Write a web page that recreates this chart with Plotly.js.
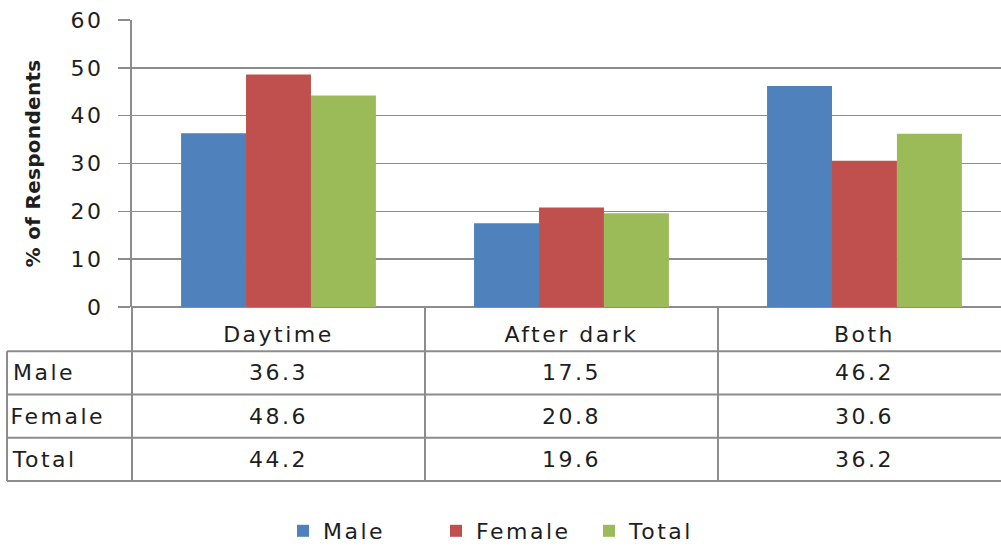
<!DOCTYPE html>
<html>
<head>
<meta charset="utf-8">
<script src="https://cdn.plot.ly/plotly-3.0.1.min.js"></script>
<style>
html,body{margin:0;padding:0;background:#fff;}
#chart{width:1001px;height:552px;}
#chart svg text{letter-spacing:2.5px;}
#chart svg .g-ytitle text{letter-spacing:0.3px;}
</style>
</head>
<body>
<div id="chart"></div>
<script>
// ---- data ----
const categories = ["Daytime", "After dark", "Both"];
const seriesNames = ["Male", "Female", "Total"];
const maleValues = [36.3, 17.5, 46.2];
const femaleValues = [48.6, 20.8, 30.6];
const totalValues = [44.2, 19.6, 36.2];
const yTickValues = [0, 10, 20, 30, 40, 50, 60];
const yAxisTitle = "% of Respondents";

const seriesValues = [maleValues, femaleValues, totalValues];
const seriesColors = ["#4F81BD", "#C0504D", "#9BBB59"];

const FONT = "DejaVu Sans, Verdana, sans-serif";
const FS = 22;
const TXT = "#1e1e1e";
const LINE = "#8c8c8c";

const traces = seriesNames.map((name, i) => ({
  type: "bar",
  name: name,
  x: categories,
  y: seriesValues[i],
  marker: {color: seriesColors[i], line: {width: 0}},
  hoverinfo: "skip"
}));

// pixel -> paper helpers (plot area: x 132..1001, y 20..312)
const L = 132, R = 1001, T = 20, B = 312;
const px = x => (x - L) / (R - L);
const py = y => (B - y) / (B - T);

const rowY = [379, 423, 467];
const annotations = [];
seriesNames.forEach((name, r) => {
  annotations.push({
    xref: "paper", yref: "paper", x: px(16), y: py(rowY[r]),
    xanchor: "left", yanchor: "middle", showarrow: false,
    text: name, font: {family: FONT, size: FS, color: TXT}
  });
  categories.forEach((c, k) => {
    annotations.push({
      xref: "x", yref: "paper", x: c, y: py(rowY[r]),
      xanchor: "center", yanchor: "middle", showarrow: false,
      text: seriesValues[r][k].toFixed(1), font: {family: FONT, size: FS, color: TXT}
    });
  });
});

const shapes = [];
const lineStyle = {color: LINE, width: 2};
// horizontal table lines
[357, 401, 445, 489].forEach(y => {
  shapes.push({type: "line", xref: "paper", yref: "paper", x0: px(7), x1: 1, y0: py(y), y1: py(y), line: lineStyle});
});
// left border of table
shapes.push({type: "line", xref: "paper", yref: "paper", x0: px(7), x1: px(7), y0: py(357), y1: py(489), line: lineStyle});
// y axis line extension through the table
shapes.push({type: "line", xref: "paper", yref: "paper", x0: 0, x1: 0, y0: 0, y1: py(489), line: lineStyle});
// category separators
[0.5, 1.5].forEach(x => {
  shapes.push({type: "line", xref: "x", yref: "paper", x0: x, x1: x, y0: 0, y1: py(489), line: lineStyle});
});

const layout = {
  width: 1001, height: 552,
  margin: {l: L, r: 1001 - R, t: T, b: 552 - B, pad: 0},
  paper_bgcolor: "#ffffff", plot_bgcolor: "#ffffff",
  barmode: "group", bargap: 0.335, bargroupgap: 0,
  showlegend: true,
  legend: {
    orientation: "h", x: px(283), xanchor: "left", y: py(540), yanchor: "middle",
    entrywidth: 108, entrywidthmode: "pixels",
    font: {family: FONT, size: FS, color: TXT}, traceorder: "normal"
  },
  xaxis: {
    type: "category", range: [-0.5, 2.466], fixedrange: true,
    showgrid: false, zeroline: false, showline: false,
    ticks: "", ticklabelstandoff: 12,
    tickfont: {family: FONT, size: FS, color: TXT}
  },
  yaxis: {
    range: [0, 60], tickvals: yTickValues, fixedrange: true,
    showgrid: true, gridcolor: LINE, gridwidth: 1.5,
    zeroline: true, zerolinecolor: LINE, zerolinewidth: 2,
    showline: true, linecolor: LINE, linewidth: 2,
    ticks: "outside", ticklen: 12, tickcolor: LINE, tickwidth: 1.5,
    ticklabelstandoff: 10,
    tickfont: {family: FONT, size: FS, color: TXT},
    title: {text: yAxisTitle, standoff: 30, font: {family: FONT, size: 20, color: TXT, weight: "bold"}}
  },
  annotations: annotations,
  shapes: shapes,
  font: {family: FONT, color: TXT}
};

Plotly.newPlot("chart", traces, layout, {staticPlot: true, displayModeBar: false});
</script>
</body>
</html>
